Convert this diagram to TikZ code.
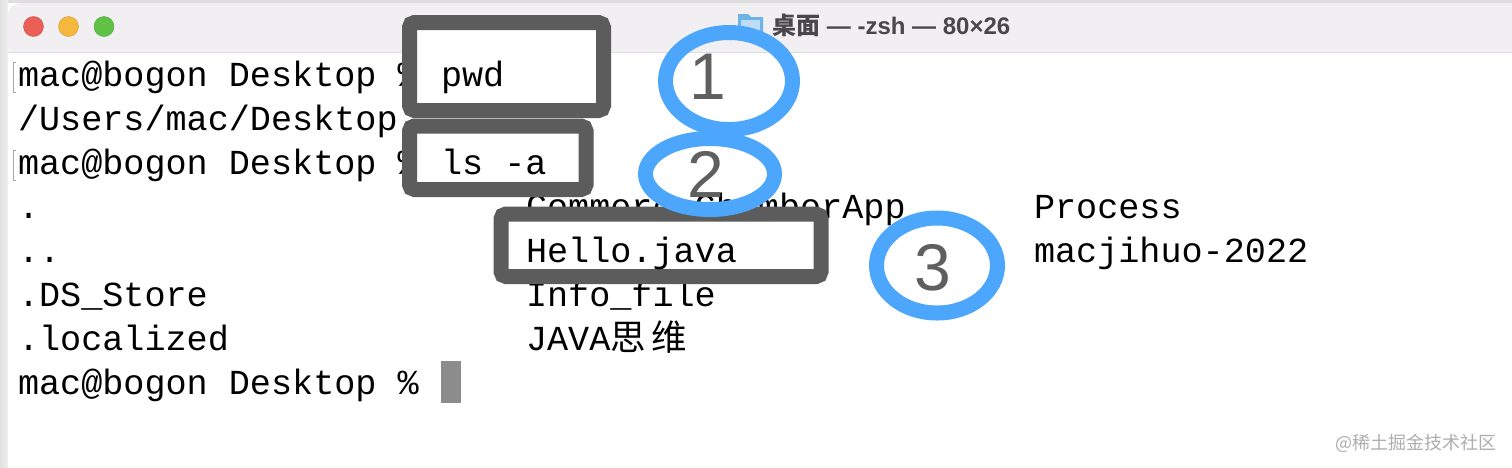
\documentclass[tikz,border=0pt]{standalone}
\usepackage{fontspec}
\setmainfont{Liberation Sans}
\newfontfamily\termfont{Liberation Mono}
\newfontfamily\cjkfont{Noto Sans CJK SC}
\usetikzlibrary{shapes.geometric}
\definecolor{barbg}{HTML}{F2EFF3}
\definecolor{barline}{HTML}{DEDCDF}
\definecolor{boxgray}{HTML}{5C5C5C}
\definecolor{ringblue}{HTML}{4CA6FB}
\definecolor{digitgray}{HTML}{5F5F5F}
\definecolor{titlegray}{HTML}{4A474B}
\definecolor{folderblue}{HTML}{6DB3E6}
\definecolor{lampred}{HTML}{EC5F57}
\definecolor{lampamber}{HTML}{F5B83D}
\definecolor{lampgreen}{HTML}{5FC247}
\tikzset{
  termtext/.style={anchor=base west,inner sep=0pt,outer sep=0pt,font=\termfont\fontsize{35.15}{35}\selectfont,text=black},
  markbox/.style={draw=boxgray,fill=white,line width=15pt,rounded corners=5pt},
  ring/.style={draw=ringblue,line width=15pt,fill=none},
  digit/.style={inner sep=0pt,font=\fontsize{66}{66}\selectfont,text=digitgray},
  lamp/.style={circle,minimum size=20pt,inner sep=0pt,line width=.4pt},
  prompttick/.style={draw=gray!70,line width=.9pt}
}
\begin{document}
\begin{tikzpicture}[x=1pt,y=-1pt]
\useasboundingbox (0,0) rectangle (1512,467);
\fill[white] (0,0) rectangle (1512,467);
% desktop strip round the window
\shade[left color=black!12,right color=black!6] (0,0) rectangle (8,467);
\fill[black!13] (8,0) rectangle (1512,3);
% window
\fill[white] (8,52) rectangle (1512,467);
\fill[barbg,rounded corners=12pt] (8,60) -- (8,3) -- (1530,3) -- (1530,60) -- cycle;
\fill[white] (8,52) rectangle (1512,70);
\draw[barline,line width=1pt] (8,52) -- (1512,52);
\node[lamp,fill=lampred,draw=lampred!85!black] (red) at (33.5,26.5) {};
\node[lamp,fill=lampamber,draw=lampamber!85!black] (amber) at (68.5,26.5) {};
\node[lamp,fill=lampgreen,draw=lampgreen!85!black] (lime) at (104,26.5) {};
% title
\fill[folderblue] (738,14) -- (748,14) -- (751,17) -- (763,17) -- (763,33) -- (738,33) -- cycle;
\fill[folderblue!45!white] (741,20) rectangle (760,31);
\node[anchor=base west,inner sep=0pt,font=\bfseries\fontsize{24}{24}\selectfont,text=titlegray] (title) at (772,34) {{\cjkfont\bfseries 桌面} — -zsh — 80×26};
% terminal text below the marks
\draw[prompttick] (16,62) -- (13.5,62) -- (13.5,92) -- (16,92);
\draw[prompttick] (16,150) -- (13.5,150) -- (13.5,180) -- (16,180);
\node[termtext] (l1) at (18,86) {mac@bogon Desktop \%};
\node[termtext] (l2) at (18,130) {/Users/mac/Desktop};
\node[termtext] (l3) at (18,174) {mac@bogon Desktop \%};
\node[termtext] (c1a) at (18,218) {.};
\node[termtext] (c1b) at (18,262) {..};
\node[termtext] (c1c) at (18,306) {.DS\_Store};
\node[termtext] (c1d) at (18,350) {.localized};
\node[termtext] (l8) at (18,394) {mac@bogon Desktop \%};
\node[termtext] (c2a) at (526,218) {Commerc ChamberApp};
\node[termtext] (c2c) at (526,306) {Info\_file};
\node[termtext] (c2d) at (526,350) {JAVA{\cjkfont\fontsize{35.5}{35}\selectfont 思\,维}};
\node[termtext] (c3a) at (1034,218) {Process};
\node[termtext] (c3b) at (1034,262) {macjihuo-2022};
\fill[black!45] (441,361) rectangle (461,403);
% gray marks
\draw[markbox] (409.5,22.5) rectangle (603.5,110.5);
\draw[markbox] (409.5,126) rectangle (586,189.5);
\draw[markbox] (501,214) rectangle (821,276.5);
\node[termtext] (pwd) at (441,86) {pwd};
\node[termtext] (ls) at (441,174) {ls -a};
\node[termtext] (hello) at (526,262) {Hello.java};
% rings and numbers
\node[ring,ellipse,minimum width=127pt,minimum height=97pt,inner sep=0pt] (r1) at (729,81) {};
\node[ring,ellipse,minimum width=129pt,minimum height=71pt,inner sep=0pt] (r2) at (710,174) {};
\node[ring,ellipse,minimum width=121pt,minimum height=95pt,inner sep=0pt] (r3) at (937,265.5) {};
\node[digit] (d1) at (708,77) {1};
\node[digit] (d2) at (706,174) {2};
\node[digit] (d3) at (933,268) {3};
% watermark
\node[anchor=base east,inner sep=0pt,font=\cjkfont\fontsize{18}{18}\selectfont,text=black!32] (mark) at (1497,449) {@稀土掘金技术社区};
\end{tikzpicture}
\end{document}
